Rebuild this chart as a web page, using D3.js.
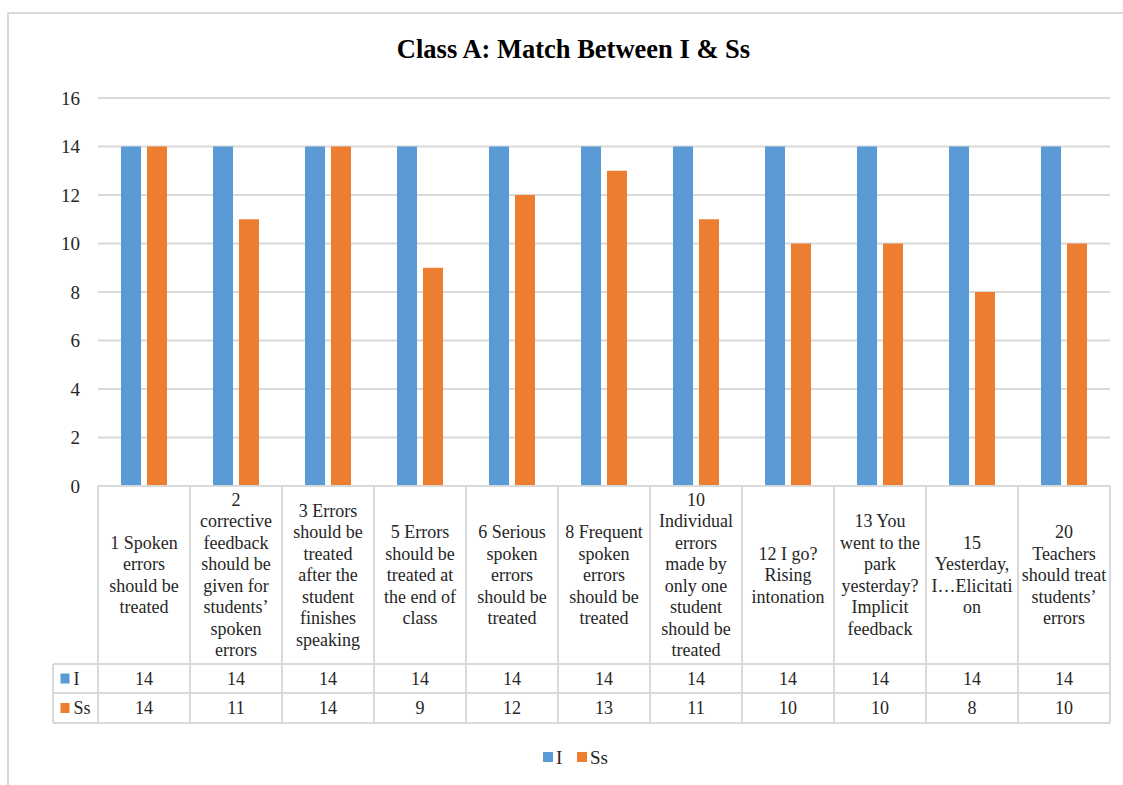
<!DOCTYPE html>
<html>
<head>
<meta charset="utf-8">
<script src="https://cdn.jsdelivr.net/npm/d3@7"></script>
<style>
  html, body { margin: 0; padding: 0; background: #fff; }
  svg { display: block; }
  text { font-family: "Liberation Serif", "Times New Roman", serif; fill: #262626; }
</style>
</head>
<body>
<svg id="chart" width="1123" height="785"></svg>
<script>
const title = "Class A: Match Between I & Ss";
const categories = [
  ["1 Spoken", "errors", "should be", "treated"],
  ["2", "corrective", "feedback", "should be", "given for", "students’", "spoken", "errors"],
  ["3 Errors", "should be", "treated", "after the", "student", "finishes", "speaking"],
  ["5 Errors", "should be", "treated at", "the end of", "class"],
  ["6 Serious", "spoken", "errors", "should be", "treated"],
  ["8 Frequent", "spoken", "errors", "should be", "treated"],
  ["10", "Individual", "errors", "made by", "only one", "student", "should be", "treated"],
  ["12 I go?", "Rising", "intonation"],
  ["13 You", "went to the", "park", "yesterday?", "Implicit", "feedback"],
  ["15", "Yesterday,", "I…Elicitati", "on"],
  ["20", "Teachers", "should treat", "students’", "errors"]
];
const seriesNames = ["I", "Ss"];
const valuesI  = [14, 14, 14, 14, 14, 14, 14, 14, 14, 14, 14];
const valuesSs = [14, 11, 14, 9, 12, 13, 11, 10, 10, 8, 10];
const yTicks = [0, 2, 4, 6, 8, 10, 12, 14, 16];
const colors = ["#5B9BD5", "#ED7D31"];

(function () {
const series = [valuesI, valuesSs];
const svg = d3.select("#chart");
const gridColor = "#d9d9d9";

// outer border
svg.append("rect").attr("x", 8).attr("y", 13).attr("width", 1140).attr("height", 800)
  .attr("fill", "none").attr("stroke", gridColor).attr("stroke-width", 2);

const pLeft = 98, pRight = 1110, pTop = 98, pBottom = 486;
const x0 = d3.scaleBand().domain(d3.range(categories.length)).range([pLeft, pRight]).padding(0);
const groupW = x0.bandwidth() * 0.5;
const x1 = d3.scaleBand().domain(seriesNames).range([0, groupW]).paddingInner(0.23).paddingOuter(0);
const y = d3.scaleLinear().domain([0, 16]).range([pBottom, pTop]);

// title
svg.append("text").attr("x", 573.5).attr("y", 58).attr("text-anchor", "middle")
  .style("font-size", "26.5px").style("font-weight", "bold").style("fill", "#000").text(title);

// gridlines
svg.append("g").selectAll("line").data(yTicks.filter(d => d > 0)).join("line")
  .attr("x1", pLeft).attr("x2", pRight).attr("y1", d => y(d)).attr("y2", d => y(d))
  .attr("stroke", gridColor).attr("stroke-width", 2);

// y axis labels
const yAxis = d3.axisLeft(y).tickValues(yTicks).tickSize(0).tickPadding(18);
const ya = svg.append("g").attr("transform", `translate(${pLeft},0)`).call(yAxis);
ya.select(".domain").remove();
ya.selectAll("text").style("font-size", "19px").style("font-family", "Liberation Serif, serif").attr("fill", "#262626");

// bars
seriesNames.forEach((s, si) => {
  svg.append("g").selectAll("rect").data(series[si]).join("rect")
    .attr("x", (d, i) => x0(i) + (x0.bandwidth() - groupW) / 2 + x1(s))
    .attr("y", d => y(d))
    .attr("width", x1.bandwidth())
    .attr("height", d => y(0) - y(d))
    .attr("fill", colors[si]);
});

// data table
const hdrBottom = 664, row1Bottom = 693, row2Bottom = 723, keyLeft = 53;
const tbl = svg.append("g").attr("stroke", gridColor).attr("stroke-width", 2);
tbl.append("line").attr("x1", pLeft).attr("x2", pRight).attr("y1", pBottom).attr("y2", pBottom);
[hdrBottom, row1Bottom, row2Bottom].forEach(yy =>
  tbl.append("line").attr("x1", keyLeft).attr("x2", pRight).attr("y1", yy).attr("y2", yy));
tbl.append("line").attr("x1", keyLeft).attr("x2", keyLeft).attr("y1", hdrBottom).attr("y2", row2Bottom);
d3.range(categories.length + 1).forEach(i => {
  const xx = i < categories.length ? x0(i) : pRight;
  tbl.append("line").attr("x1", xx).attr("x2", xx).attr("y1", pBottom).attr("y2", row2Bottom);
});

// header text
const lh = 21.5, hdrMid = (pBottom + hdrBottom) / 2;
categories.forEach((lines, i) => {
  const cx = x0(i) + x0.bandwidth() / 2;
  const t = svg.append("text").attr("text-anchor", "middle").style("font-size", "18px");
  lines.forEach((ln, j) => {
    t.append("tspan").attr("x", cx)
      .attr("y", hdrMid - (lines.length - 1) * lh / 2 + j * lh + 6)
      .text(ln);
  });
});

// value rows
const rowMids = [(hdrBottom + row1Bottom) / 2, (row1Bottom + row2Bottom) / 2];
seriesNames.forEach((s, si) => {
  svg.append("g").selectAll("text").data(series[si]).join("text")
    .attr("x", (d, i) => x0(i) + x0.bandwidth() / 2)
    .attr("y", rowMids[si] + 6)
    .attr("text-anchor", "middle").style("font-size", "18px")
    .text(d => d);
  svg.append("rect").attr("x", 60.5).attr("y", rowMids[si] - 5).attr("width", 9).attr("height", 10)
    .attr("fill", colors[si]);
  svg.append("text").attr("x", 73.5).attr("y", rowMids[si] + 6).style("font-size", "18px").text(s);
});

// legend
const legX = [543, 577];
seriesNames.forEach((s, si) => {
  svg.append("rect").attr("x", legX[si]).attr("y", 752).attr("width", 10).attr("height", 10).attr("fill", colors[si]);
  svg.append("text").attr("x", legX[si] + 13).attr("y", 763.5).style("font-size", "19px").text(s);
});
})();
</script>
</body>
</html>
